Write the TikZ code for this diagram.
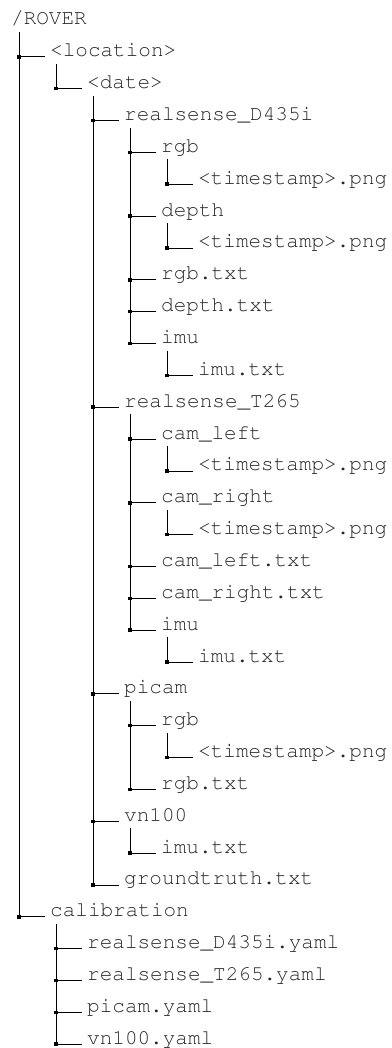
\documentclass[tikz,border=0pt]{standalone}
\usepackage[T1]{fontenc}
\usepackage{courier}
\tikzset{
  ft/.style={font=\ttfamily\fontsize{21}{21}\selectfont, inner sep=0pt, anchor=base west, text=black!85},
  ln/.style={draw=black, line width=0.8pt},
  sq/.style={fill=black},
}
\newcommand\ent[4]{% name, level, row, text
  \node[ft] (#1) at ({13+37*#2}, {-25-31.85*#3}) {#4};
  \coordinate (#1-j) at ({19+37*(#2-1)}, {-25-31.85*#3});
  \coordinate (#1-t) at ({19+37*#2}, {-25-31.85*#3-7});
}
\newcommand\lnk[1]{%
  \draw[ln] (#1-j) -- ([xshift=-5pt]#1.base west);
  \fill[sq] ([xshift=-1.75pt,yshift=-1.75pt]#1-j) rectangle ([xshift=1.75pt,yshift=1.75pt]#1-j);
}
\newcommand\vl[2]{\draw[ln] (#1-t) -- (#2-j);}
\begin{document}
\begin{tikzpicture}[x=1pt,y=1pt]
\useasboundingbox (0,0) rectangle (391,-1048);
\node[ft] (root) at (11,-25) {/ROVER};
\coordinate (root-t) at (19,-32);
\ent{loc}{1}{1}{<location>}
\ent{date}{2}{2}{<date>}
\ent{dcam}{3}{3}{realsense\_D435i}
\ent{drgb}{4}{4}{rgb}
\ent{drgbts}{5}{5}{<timestamp>.png}
\ent{ddep}{4}{6}{depth}
\ent{ddepts}{5}{7}{<timestamp>.png}
\ent{drgbtxt}{4}{8}{rgb.txt}
\ent{ddeptxt}{4}{9}{depth.txt}
\ent{dimu}{4}{10}{imu}
\ent{dimutxt}{5}{11}{imu.txt}
\ent{tcam}{3}{12}{realsense\_T265}
\ent{tl}{4}{13}{cam\_left}
\ent{tlts}{5}{14}{<timestamp>.png}
\ent{tr}{4}{15}{cam\_right}
\ent{trts}{5}{16}{<timestamp>.png}
\ent{tltxt}{4}{17}{cam\_left.txt}
\ent{trtxt}{4}{18}{cam\_right.txt}
\ent{timu}{4}{19}{imu}
\ent{timutxt}{5}{20}{imu.txt}
\ent{pcam}{3}{21}{picam}
\ent{prgb}{4}{22}{rgb}
\ent{prgbts}{5}{23}{<timestamp>.png}
\ent{prgbtxt}{4}{24}{rgb.txt}
\ent{vn}{3}{25}{vn100}
\ent{vnimu}{4}{26}{imu.txt}
\ent{gt}{3}{27}{groundtruth.txt}
\ent{cal}{1}{28}{calibration}
\ent{cd}{2}{29}{realsense\_D435i.yaml}
\ent{ct}{2}{30}{realsense\_T265.yaml}
\ent{cp}{2}{31}{picam.yaml}
\ent{cv}{2}{32}{vn100.yaml}
% vertical lines
\vl{root}{cal}
\vl{loc}{date}
\vl{date}{gt}
\vl{dcam}{dimu}
\vl{drgb}{drgbts}
\vl{ddep}{ddepts}
\vl{dimu}{dimutxt}
\vl{tcam}{timu}
\vl{tl}{tlts}
\vl{tr}{trts}
\vl{timu}{timutxt}
\vl{pcam}{prgbtxt}
\vl{prgb}{prgbts}
\vl{vn}{vnimu}
\vl{cal}{cv}
% horizontal links
\lnk{loc}\lnk{date}\lnk{dcam}\lnk{drgb}\lnk{drgbts}\lnk{ddep}\lnk{ddepts}
\lnk{drgbtxt}\lnk{ddeptxt}\lnk{dimu}\lnk{dimutxt}\lnk{tcam}\lnk{tl}\lnk{tlts}
\lnk{tr}\lnk{trts}\lnk{tltxt}\lnk{trtxt}\lnk{timu}\lnk{timutxt}\lnk{pcam}
\lnk{prgb}\lnk{prgbts}\lnk{prgbtxt}\lnk{vn}\lnk{vnimu}\lnk{gt}\lnk{cal}
\lnk{cd}\lnk{ct}\lnk{cp}\lnk{cv}
\end{tikzpicture}
\end{document}
